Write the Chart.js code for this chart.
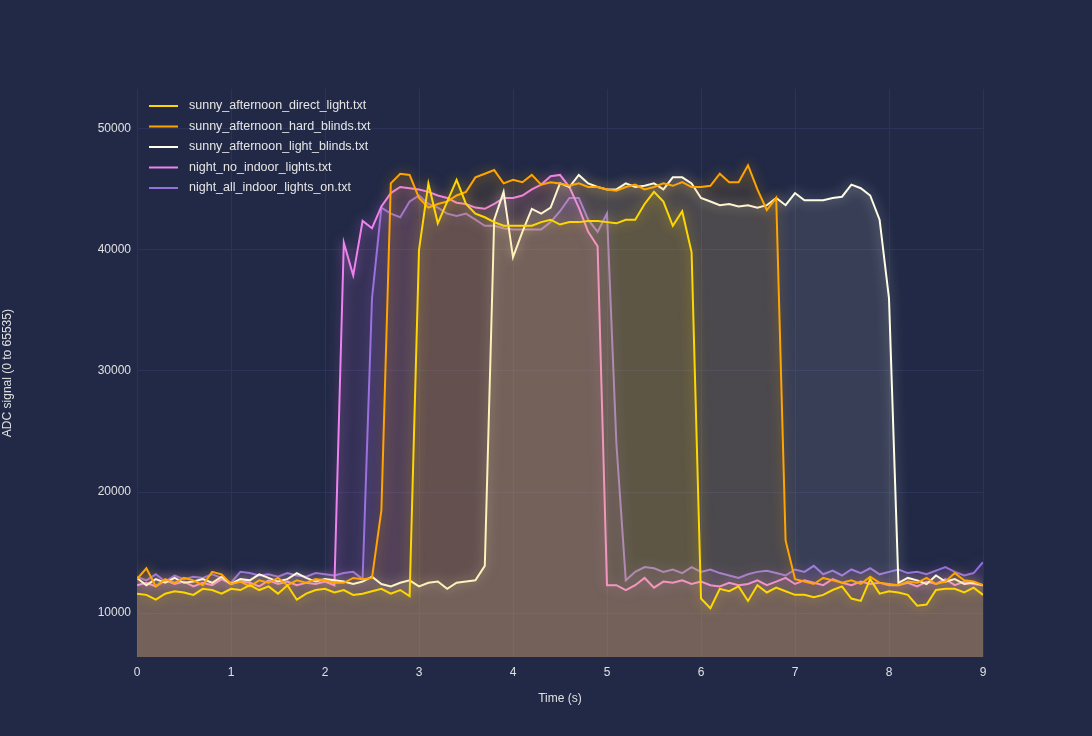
<!DOCTYPE html>
<html><head><meta charset="utf-8">
<script src="https://cdn.jsdelivr.net/npm/chart.js@4"></script>
<style>html,body{margin:0;background:#212946}#w{width:1092px;height:736px}</style>
</head><body><div id="w"><canvas id="c"></canvas></div>
<script>
const times = Array.from({length:91},(_,i)=>+(i/10).toFixed(1));
const labels = ["sunny_afternoon_direct_light.txt","sunny_afternoon_hard_blinds.txt","sunny_afternoon_light_blinds.txt","night_no_indoor_lights.txt","night_all_indoor_lights_on.txt"];
const colors = ["#FFD700","#FFA500","#FFFDE7","#EE82EE","#9370DB"];
const directLight = [11600,11500,11100,11600,11800,11700,11500,12000,11900,11600,12000,11900,12300,11900,12200,11600,12300,11100,11600,11900,12000,11700,11900,11500,11600,11800,12000,11600,11900,11400,
40000,45500,42200,44000,45800,43800,43000,42700,42300,42000,42000,42000,42000,42300,42500,42100,42300,42300,42400,42400,42300,42200,42500,42500,43800,44800,44000,42000,43200,39800,
11200,10400,12000,11800,12200,11000,12300,11700,12100,11800,11500,11500,11300,11500,11900,12200,11200,11000,12800,11600,11800,11700,11500,10600,10700,11900,12000,12000,11700,12100,11500];
const hardBlinds = [12800,13700,12200,12800,12500,12900,12700,12300,13400,13200,12400,12600,12200,12700,12500,12900,12300,12700,12500,12800,12700,12500,12500,12900,12800,12900,18500,45500,46300,46200,
44300,43500,43800,44000,44500,44800,46000,46300,46600,45500,45800,45600,46200,45400,45600,45500,45300,45500,45200,45200,45000,44900,45200,45400,45000,45200,45500,45300,45600,45200,
45200,45300,46300,45600,45600,47000,45000,43300,44300,16000,12800,12600,12400,12900,12700,12500,12700,12400,13000,12500,12400,12300,12600,12500,12900,12400,12600,13300,12700,12600,12300];
const lightBlinds = [12900,12300,12800,12500,12900,12500,12600,12800,12500,13000,12400,12800,12700,13200,12900,12600,12800,13300,12900,12600,12800,12700,12600,12400,12600,13000,12400,12200,12500,12700,
12200,12500,12600,12000,12500,12600,12700,13900,42500,44800,39400,41500,43400,43000,43500,45500,45200,46200,45500,45200,45000,45000,45500,45200,45300,45500,45000,46000,46000,45500,
44300,44000,43700,43800,43600,43700,43500,43700,44300,43700,44700,44100,44100,44100,44300,44400,45400,45100,44500,42500,36000,12500,12900,12700,12400,13100,12600,12800,12400,12500,12300];
const nightNoLights = [12300,12500,12200,12700,12400,12600,12200,12500,12300,12800,12400,12600,12500,12200,12700,12400,12600,12300,12500,12400,12600,12300,40600,37900,42400,41800,43600,44700,45200,45100,
45000,44800,44500,44300,43900,43800,43500,43400,43800,44300,44300,44500,45000,45400,46100,46200,45200,43500,41500,40300,12300,12300,11900,12300,12900,12100,12600,12500,12700,12400,
12600,12300,12200,12500,12300,12400,12700,12300,12600,12900,12400,12700,12500,12300,12800,12500,12300,12600,12400,12500,12300,12300,12500,12200,12600,12400,12800,12300,12600,12400,12300];
const nightAllLights = [13000,12700,13200,12600,13100,12800,13000,12900,13200,12900,12500,13400,13300,13100,13200,13000,13300,13100,13000,13300,13200,13100,13300,13400,12800,36000,43500,43000,42700,44000,
44500,43800,43500,43000,42800,43000,42500,42000,42000,41800,41700,41700,41700,41700,42300,43200,44300,44300,42500,41500,43000,24000,12700,13400,13800,13700,13400,13600,13300,13800,
13400,13600,13300,13100,12900,13200,13400,13500,13300,13100,13600,13400,13900,13200,13500,13100,13600,13300,13700,13200,13400,13600,13300,13400,13200,13500,13800,13400,13100,13300,14200];
const seriesData = [directLight,hardBlinds,lightBlinds,nightNoLights,nightAllLights];
const yTicks = [10000,20000,30000,40000,50000];

function hexA(h,a){const n=parseInt(h.slice(1),16);return `rgba(${n>>16},${(n>>8)&255},${n&255},${a})`;}
const datasets = seriesData.map((d,i)=>({label:labels[i],data:d.map((v,j)=>({x:times[j],y:v})),borderColor:colors[i],backgroundColor:hexA(colors[i],0.1),fill:'origin',borderWidth:2,pointRadius:0,tension:0}));

const glow = {id:'glow',
 beforeDatasetDraw(ch,args){const c=ch.ctx;c.save();c.shadowColor=hexA(colors[args.index],0.55);c.shadowBlur=12;},
 afterDatasetDraw(ch){ch.ctx.restore();},
 afterDraw(ch){const c=ch.ctx;c.save();c.font='12.5px "Liberation Sans", Arial';c.textBaseline='middle';
  labels.forEach((l,i)=>{const y=106+i*20.5;c.strokeStyle=colors[i];c.lineWidth=2;c.beginPath();c.moveTo(149,y);c.lineTo(178,y);c.stroke();c.fillStyle='#e6e6e6';c.fillText(l,189,y);});c.restore();}
};
Chart.defaults.font.family='"Liberation Sans", Arial';
Chart.defaults.color='#e0e0e0';
new Chart(document.getElementById('c'),{type:'line',data:{datasets},plugins:[glow],
 options:{responsive:true,maintainAspectRatio:false,animation:false,
  layout:{padding:{left:0,right:109,top:89,bottom:0}},
  plugins:{legend:{display:false},tooltip:{enabled:false}},
  scales:{
   x:{type:'linear',min:0,max:9,grid:{color:'#2A3459',drawTicks:false},border:{display:false},
      ticks:{stepSize:1,padding:8,font:{size:12},color:'#e0e0e0'},
      title:{display:true,text:'Time (s)',font:{size:12},color:'#e0e0e0',padding:{top:4,bottom:30}}},
   y:{min:6350,max:53300,grid:{color:'#2A3459',drawTicks:false},border:{display:false},
      afterBuildTicks(a){a.ticks=yTicks.map(v=>({value:v}));},
      ticks:{padding:6,font:{size:12},color:'#e0e0e0',callback:v=>String(v)},
      title:{display:true,text:'ADC signal (0 to 65535)',font:{size:12},color:'#e0e0e0',padding:{top:0,bottom:4}},
      afterFit(s){s.width=137;}}
  }}});
</script></body></html>
